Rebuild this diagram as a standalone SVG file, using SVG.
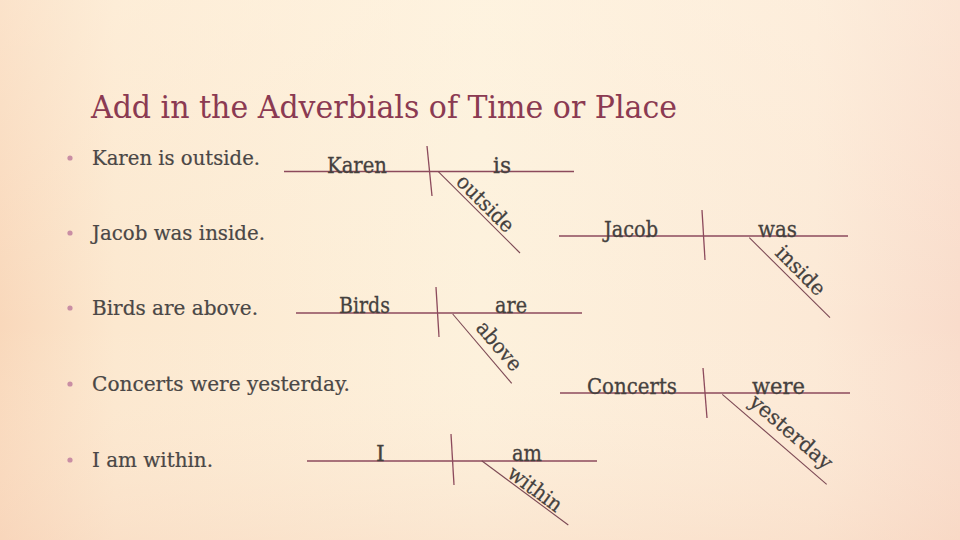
<svg xmlns="http://www.w3.org/2000/svg" width="960" height="540" viewBox="0 0 960 540">
  <defs>
    <linearGradient id="bgH" x1="0" y1="0" x2="1" y2="0">
      <stop offset="0" stop-color="#f9d8bb"/>
      <stop offset="0.12" stop-color="#fce8cf"/>
      <stop offset="0.5" stop-color="#fdf1dc"/>
      <stop offset="0.85" stop-color="#fce9d6"/>
      <stop offset="1" stop-color="#f9dccb"/>
    </linearGradient>
    <linearGradient id="bgV" x1="0" y1="0" x2="0" y2="1">
      <stop offset="0" stop-color="#fff6e6" stop-opacity="0.35"/>
      <stop offset="0.6" stop-color="#fff6e6" stop-opacity="0"/>
      <stop offset="1" stop-color="#f6d2bb" stop-opacity="0.35"/>
    </linearGradient>
    <style>
      .title { font-family: "DejaVu Serif", "Liberation Serif", serif; font-size: 32px; fill: #8b3a52; }
      .bullet { font-family: "DejaVu Serif", "Liberation Serif", serif; font-size: 20px; fill: #4a4746; stroke: #4a4746; stroke-width: 0.2; }
      .dot { fill: #c98ea4; }
      .word { font-family: "DejaVu Serif", "Liberation Serif", serif; font-size: 22px; fill: #45413e; stroke: #45413e; stroke-width: 0.3; }
      .adv { font-family: "DejaVu Serif", "Liberation Serif", serif; font-size: 21px; fill: #45413e; stroke: #45413e; stroke-width: 0.25; }
      .ln { stroke: #8c4a5c; stroke-width: 1.3; fill: none; }
      .dg { stroke: #7d4a55; stroke-width: 1.1; fill: none; }
    </style>
  </defs>

  <rect x="0" y="0" width="960" height="540" fill="url(#bgH)"/>
  <rect x="0" y="0" width="960" height="540" fill="url(#bgV)"/>

  <g id="title">
    <text class="title" x="91" y="118" textLength="586" lengthAdjust="spacingAndGlyphs">Add in the Adverbials of Time or Place</text>
  </g>

  <g id="bullets">
    <g id="bullet1"><circle class="dot" cx="70" cy="158" r="2.6"/><text class="bullet" x="92" y="165" textLength="168" lengthAdjust="spacingAndGlyphs">Karen is outside.</text></g>
    <g id="bullet2"><circle class="dot" cx="70" cy="233" r="2.6"/><text class="bullet" x="92" y="240" textLength="173" lengthAdjust="spacingAndGlyphs">Jacob was inside.</text></g>
    <g id="bullet3"><circle class="dot" cx="70" cy="308" r="2.6"/><text class="bullet" x="92" y="315" textLength="166" lengthAdjust="spacingAndGlyphs">Birds are above.</text></g>
    <g id="bullet4"><circle class="dot" cx="70" cy="384" r="2.6"/><text class="bullet" x="92" y="391" textLength="258" lengthAdjust="spacingAndGlyphs">Concerts were yesterday.</text></g>
    <g id="bullet5"><circle class="dot" cx="70" cy="460" r="2.6"/><text class="bullet" x="92" y="467" textLength="121" lengthAdjust="spacingAndGlyphs">I am within.</text></g>
  </g>

  <g id="connectors">
    <line class="ln" x1="284" y1="171.5" x2="574" y2="171.5"/>
    <line class="ln" x1="427" y1="146" x2="432" y2="196"/>
    <line class="dg" x1="438.3" y1="171.7" x2="520" y2="253"/>
    <line class="ln" x1="559" y1="236" x2="848" y2="236"/>
    <line class="ln" x1="702" y1="210" x2="705" y2="260"/>
    <line class="dg" x1="749.3" y1="237.7" x2="830" y2="317.7"/>
    <line class="ln" x1="296" y1="313" x2="582" y2="313"/>
    <line class="ln" x1="436" y1="287" x2="439" y2="337"/>
    <line class="dg" x1="452.7" y1="314" x2="511.7" y2="383.3"/>
    <line class="ln" x1="560" y1="393" x2="850" y2="393"/>
    <line class="ln" x1="703" y1="368" x2="707" y2="418"/>
    <line class="dg" x1="722.3" y1="394.3" x2="826.7" y2="484.3"/>
    <line class="ln" x1="307" y1="461" x2="597" y2="461"/>
    <line class="ln" x1="451" y1="434" x2="454" y2="485"/>
    <line class="dg" x1="481.7" y1="460.7" x2="568.3" y2="525"/>
  </g>

  <g id="diagram1">
    <g id="d1-subject"><text class="word" x="327" y="172.5" textLength="60" lengthAdjust="spacingAndGlyphs">Karen</text></g>
    <g id="d1-verb"><text class="word" x="493" y="172.5" textLength="18" lengthAdjust="spacingAndGlyphs">is</text></g>
    <g id="d1-adverb"><text class="adv" transform="translate(455,183) rotate(45)" textLength="72" lengthAdjust="spacingAndGlyphs">outside</text></g>
  </g>

  <g id="diagram2">
    <g id="d2-subject"><text class="word" x="604" y="237" textLength="54" lengthAdjust="spacingAndGlyphs">Jacob</text></g>
    <g id="d2-verb"><text class="word" x="758" y="237" textLength="39" lengthAdjust="spacingAndGlyphs">was</text></g>
    <g id="d2-adverb"><text class="adv" transform="translate(774,254) rotate(45)" textLength="61" lengthAdjust="spacingAndGlyphs">inside</text></g>
  </g>

  <g id="diagram3">
    <g id="d3-subject"><text class="word" x="339" y="313" textLength="51" lengthAdjust="spacingAndGlyphs">Birds</text></g>
    <g id="d3-verb"><text class="word" x="495" y="313" textLength="32" lengthAdjust="spacingAndGlyphs">are</text></g>
    <g id="d3-adverb"><text class="adv" transform="translate(475,328.5) rotate(49.6)" textLength="58" lengthAdjust="spacingAndGlyphs">above</text></g>
  </g>

  <g id="diagram4">
    <g id="d4-subject"><text class="word" x="587" y="394" textLength="90" lengthAdjust="spacingAndGlyphs">Concerts</text></g>
    <g id="d4-verb"><text class="word" x="752" y="394" textLength="53" lengthAdjust="spacingAndGlyphs">were</text></g>
    <g id="d4-adverb"><text class="adv" transform="translate(748,404) rotate(40.8)" textLength="102" lengthAdjust="spacingAndGlyphs">yesterday</text></g>
  </g>

  <g id="diagram5">
    <g id="d5-subject"><text class="word" x="376" y="461">I</text></g>
    <g id="d5-verb"><text class="word" x="512" y="461" textLength="30" lengthAdjust="spacingAndGlyphs">am</text></g>
    <g id="d5-adverb"><text class="adv" transform="translate(506,476) rotate(36.6)" textLength="62" lengthAdjust="spacingAndGlyphs">within</text></g>
  </g>
</svg>
